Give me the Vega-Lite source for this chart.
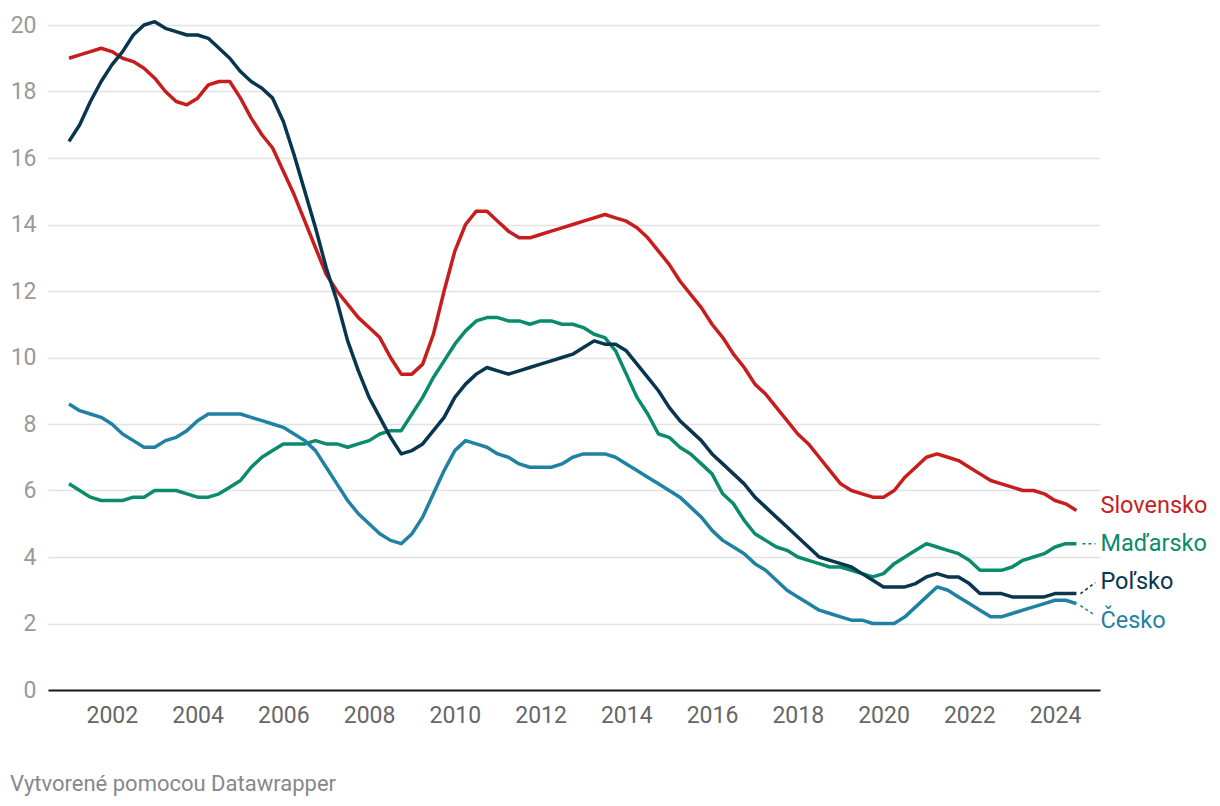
{
  "$schema": "https://vega.github.io/schema/vega-lite/v6.json",
  "width": 1052,
  "height": 665,
  "autosize": {"type": "none"},
  "padding": {"left": 48, "top": 25, "right": 120, "bottom": 116},
  "background": "#ffffff",
  "config": {"font": "Roboto", "view": {"stroke": null}},
  "title": {"text": "Vytvorené pomocou Datawrapper", "orient": "bottom", "anchor": "start", "frame": "group", "dx": -38, "offset": 47, "fontSize": 22, "fontWeight": "normal", "color": "#888888", "font": "Roboto", "baseline": "top"},
  "data": {"values": [
    {"t": 2001.00, "Slovensko": 19.0, "Maďarsko": 6.2, "Poľsko": 16.5, "Česko": 8.6},
    {"t": 2001.25, "Slovensko": 19.1, "Maďarsko": 6.0, "Poľsko": 17.0, "Česko": 8.4},
    {"t": 2001.50, "Slovensko": 19.2, "Maďarsko": 5.8, "Poľsko": 17.7, "Česko": 8.3},
    {"t": 2001.75, "Slovensko": 19.3, "Maďarsko": 5.7, "Poľsko": 18.3, "Česko": 8.2},
    {"t": 2002.00, "Slovensko": 19.2, "Maďarsko": 5.7, "Poľsko": 18.8, "Česko": 8.0},
    {"t": 2002.25, "Slovensko": 19.0, "Maďarsko": 5.7, "Poľsko": 19.2, "Česko": 7.7},
    {"t": 2002.50, "Slovensko": 18.9, "Maďarsko": 5.8, "Poľsko": 19.7, "Česko": 7.5},
    {"t": 2002.75, "Slovensko": 18.7, "Maďarsko": 5.8, "Poľsko": 20.0, "Česko": 7.3},
    {"t": 2003.00, "Slovensko": 18.4, "Maďarsko": 6.0, "Poľsko": 20.1, "Česko": 7.3},
    {"t": 2003.25, "Slovensko": 18.0, "Maďarsko": 6.0, "Poľsko": 19.9, "Česko": 7.5},
    {"t": 2003.50, "Slovensko": 17.7, "Maďarsko": 6.0, "Poľsko": 19.8, "Česko": 7.6},
    {"t": 2003.75, "Slovensko": 17.6, "Maďarsko": 5.9, "Poľsko": 19.7, "Česko": 7.8},
    {"t": 2004.00, "Slovensko": 17.8, "Maďarsko": 5.8, "Poľsko": 19.7, "Česko": 8.1},
    {"t": 2004.25, "Slovensko": 18.2, "Maďarsko": 5.8, "Poľsko": 19.6, "Česko": 8.3},
    {"t": 2004.50, "Slovensko": 18.3, "Maďarsko": 5.9, "Poľsko": 19.3, "Česko": 8.3},
    {"t": 2004.75, "Slovensko": 18.3, "Maďarsko": 6.1, "Poľsko": 19.0, "Česko": 8.3},
    {"t": 2005.00, "Slovensko": 17.8, "Maďarsko": 6.3, "Poľsko": 18.6, "Česko": 8.3},
    {"t": 2005.25, "Slovensko": 17.2, "Maďarsko": 6.7, "Poľsko": 18.3, "Česko": 8.2},
    {"t": 2005.50, "Slovensko": 16.7, "Maďarsko": 7.0, "Poľsko": 18.1, "Česko": 8.1},
    {"t": 2005.75, "Slovensko": 16.3, "Maďarsko": 7.2, "Poľsko": 17.8, "Česko": 8.0},
    {"t": 2006.00, "Slovensko": 15.6, "Maďarsko": 7.4, "Poľsko": 17.1, "Česko": 7.9},
    {"t": 2006.25, "Slovensko": 14.9, "Maďarsko": 7.4, "Poľsko": 16.1, "Česko": 7.7},
    {"t": 2006.50, "Slovensko": 14.1, "Maďarsko": 7.4, "Poľsko": 15.0, "Česko": 7.5},
    {"t": 2006.75, "Slovensko": 13.3, "Maďarsko": 7.5, "Poľsko": 13.9, "Česko": 7.2},
    {"t": 2007.00, "Slovensko": 12.5, "Maďarsko": 7.4, "Poľsko": 12.7, "Česko": 6.7},
    {"t": 2007.25, "Slovensko": 12.0, "Maďarsko": 7.4, "Poľsko": 11.7, "Česko": 6.2},
    {"t": 2007.50, "Slovensko": 11.6, "Maďarsko": 7.3, "Poľsko": 10.5, "Česko": 5.7},
    {"t": 2007.75, "Slovensko": 11.2, "Maďarsko": 7.4, "Poľsko": 9.6, "Česko": 5.3},
    {"t": 2008.00, "Slovensko": 10.9, "Maďarsko": 7.5, "Poľsko": 8.8, "Česko": 5.0},
    {"t": 2008.25, "Slovensko": 10.6, "Maďarsko": 7.7, "Poľsko": 8.2, "Česko": 4.7},
    {"t": 2008.50, "Slovensko": 10.0, "Maďarsko": 7.8, "Poľsko": 7.6, "Česko": 4.5},
    {"t": 2008.75, "Slovensko": 9.5, "Maďarsko": 7.8, "Poľsko": 7.1, "Česko": 4.4},
    {"t": 2009.00, "Slovensko": 9.5, "Maďarsko": 8.3, "Poľsko": 7.2, "Česko": 4.7},
    {"t": 2009.25, "Slovensko": 9.8, "Maďarsko": 8.8, "Poľsko": 7.4, "Česko": 5.2},
    {"t": 2009.50, "Slovensko": 10.7, "Maďarsko": 9.4, "Poľsko": 7.8, "Česko": 5.9},
    {"t": 2009.75, "Slovensko": 12.0, "Maďarsko": 9.9, "Poľsko": 8.2, "Česko": 6.6},
    {"t": 2010.00, "Slovensko": 13.2, "Maďarsko": 10.4, "Poľsko": 8.8, "Česko": 7.2},
    {"t": 2010.25, "Slovensko": 14.0, "Maďarsko": 10.8, "Poľsko": 9.2, "Česko": 7.5},
    {"t": 2010.50, "Slovensko": 14.4, "Maďarsko": 11.1, "Poľsko": 9.5, "Česko": 7.4},
    {"t": 2010.75, "Slovensko": 14.4, "Maďarsko": 11.2, "Poľsko": 9.7, "Česko": 7.3},
    {"t": 2011.00, "Slovensko": 14.1, "Maďarsko": 11.2, "Poľsko": 9.6, "Česko": 7.1},
    {"t": 2011.25, "Slovensko": 13.8, "Maďarsko": 11.1, "Poľsko": 9.5, "Česko": 7.0},
    {"t": 2011.50, "Slovensko": 13.6, "Maďarsko": 11.1, "Poľsko": 9.6, "Česko": 6.8},
    {"t": 2011.75, "Slovensko": 13.6, "Maďarsko": 11.0, "Poľsko": 9.7, "Česko": 6.7},
    {"t": 2012.00, "Slovensko": 13.7, "Maďarsko": 11.1, "Poľsko": 9.8, "Česko": 6.7},
    {"t": 2012.25, "Slovensko": 13.8, "Maďarsko": 11.1, "Poľsko": 9.9, "Česko": 6.7},
    {"t": 2012.50, "Slovensko": 13.9, "Maďarsko": 11.0, "Poľsko": 10.0, "Česko": 6.8},
    {"t": 2012.75, "Slovensko": 14.0, "Maďarsko": 11.0, "Poľsko": 10.1, "Česko": 7.0},
    {"t": 2013.00, "Slovensko": 14.1, "Maďarsko": 10.9, "Poľsko": 10.3, "Česko": 7.1},
    {"t": 2013.25, "Slovensko": 14.2, "Maďarsko": 10.7, "Poľsko": 10.5, "Česko": 7.1},
    {"t": 2013.50, "Slovensko": 14.3, "Maďarsko": 10.6, "Poľsko": 10.4, "Česko": 7.1},
    {"t": 2013.75, "Slovensko": 14.2, "Maďarsko": 10.2, "Poľsko": 10.4, "Česko": 7.0},
    {"t": 2014.00, "Slovensko": 14.1, "Maďarsko": 9.5, "Poľsko": 10.2, "Česko": 6.8},
    {"t": 2014.25, "Slovensko": 13.9, "Maďarsko": 8.8, "Poľsko": 9.8, "Česko": 6.6},
    {"t": 2014.50, "Slovensko": 13.6, "Maďarsko": 8.3, "Poľsko": 9.4, "Česko": 6.4},
    {"t": 2014.75, "Slovensko": 13.2, "Maďarsko": 7.7, "Poľsko": 9.0, "Česko": 6.2},
    {"t": 2015.00, "Slovensko": 12.8, "Maďarsko": 7.6, "Poľsko": 8.5, "Česko": 6.0},
    {"t": 2015.25, "Slovensko": 12.3, "Maďarsko": 7.3, "Poľsko": 8.1, "Česko": 5.8},
    {"t": 2015.50, "Slovensko": 11.9, "Maďarsko": 7.1, "Poľsko": 7.8, "Česko": 5.5},
    {"t": 2015.75, "Slovensko": 11.5, "Maďarsko": 6.8, "Poľsko": 7.5, "Česko": 5.2},
    {"t": 2016.00, "Slovensko": 11.0, "Maďarsko": 6.5, "Poľsko": 7.1, "Česko": 4.8},
    {"t": 2016.25, "Slovensko": 10.6, "Maďarsko": 5.9, "Poľsko": 6.8, "Česko": 4.5},
    {"t": 2016.50, "Slovensko": 10.1, "Maďarsko": 5.6, "Poľsko": 6.5, "Česko": 4.3},
    {"t": 2016.75, "Slovensko": 9.7, "Maďarsko": 5.1, "Poľsko": 6.2, "Česko": 4.1},
    {"t": 2017.00, "Slovensko": 9.2, "Maďarsko": 4.7, "Poľsko": 5.8, "Česko": 3.8},
    {"t": 2017.25, "Slovensko": 8.9, "Maďarsko": 4.5, "Poľsko": 5.5, "Česko": 3.6},
    {"t": 2017.50, "Slovensko": 8.5, "Maďarsko": 4.3, "Poľsko": 5.2, "Česko": 3.3},
    {"t": 2017.75, "Slovensko": 8.1, "Maďarsko": 4.2, "Poľsko": 4.9, "Česko": 3.0},
    {"t": 2018.00, "Slovensko": 7.7, "Maďarsko": 4.0, "Poľsko": 4.6, "Česko": 2.8},
    {"t": 2018.25, "Slovensko": 7.4, "Maďarsko": 3.9, "Poľsko": 4.3, "Česko": 2.6},
    {"t": 2018.50, "Slovensko": 7.0, "Maďarsko": 3.8, "Poľsko": 4.0, "Česko": 2.4},
    {"t": 2018.75, "Slovensko": 6.6, "Maďarsko": 3.7, "Poľsko": 3.9, "Česko": 2.3},
    {"t": 2019.00, "Slovensko": 6.2, "Maďarsko": 3.7, "Poľsko": 3.8, "Česko": 2.2},
    {"t": 2019.25, "Slovensko": 6.0, "Maďarsko": 3.6, "Poľsko": 3.7, "Česko": 2.1},
    {"t": 2019.50, "Slovensko": 5.9, "Maďarsko": 3.5, "Poľsko": 3.5, "Česko": 2.1},
    {"t": 2019.75, "Slovensko": 5.8, "Maďarsko": 3.4, "Poľsko": 3.3, "Česko": 2.0},
    {"t": 2020.00, "Slovensko": 5.8, "Maďarsko": 3.5, "Poľsko": 3.1, "Česko": 2.0},
    {"t": 2020.25, "Slovensko": 6.0, "Maďarsko": 3.8, "Poľsko": 3.1, "Česko": 2.0},
    {"t": 2020.50, "Slovensko": 6.4, "Maďarsko": 4.0, "Poľsko": 3.1, "Česko": 2.2},
    {"t": 2020.75, "Slovensko": 6.7, "Maďarsko": 4.2, "Poľsko": 3.2, "Česko": 2.5},
    {"t": 2021.00, "Slovensko": 7.0, "Maďarsko": 4.4, "Poľsko": 3.4, "Česko": 2.8},
    {"t": 2021.25, "Slovensko": 7.1, "Maďarsko": 4.3, "Poľsko": 3.5, "Česko": 3.1},
    {"t": 2021.50, "Slovensko": 7.0, "Maďarsko": 4.2, "Poľsko": 3.4, "Česko": 3.0},
    {"t": 2021.75, "Slovensko": 6.9, "Maďarsko": 4.1, "Poľsko": 3.4, "Česko": 2.8},
    {"t": 2022.00, "Slovensko": 6.7, "Maďarsko": 3.9, "Poľsko": 3.2, "Česko": 2.6},
    {"t": 2022.25, "Slovensko": 6.5, "Maďarsko": 3.6, "Poľsko": 2.9, "Česko": 2.4},
    {"t": 2022.50, "Slovensko": 6.3, "Maďarsko": 3.6, "Poľsko": 2.9, "Česko": 2.2},
    {"t": 2022.75, "Slovensko": 6.2, "Maďarsko": 3.6, "Poľsko": 2.9, "Česko": 2.2},
    {"t": 2023.00, "Slovensko": 6.1, "Maďarsko": 3.7, "Poľsko": 2.8, "Česko": 2.3},
    {"t": 2023.25, "Slovensko": 6.0, "Maďarsko": 3.9, "Poľsko": 2.8, "Česko": 2.4},
    {"t": 2023.50, "Slovensko": 6.0, "Maďarsko": 4.0, "Poľsko": 2.8, "Česko": 2.5},
    {"t": 2023.75, "Slovensko": 5.9, "Maďarsko": 4.1, "Poľsko": 2.8, "Česko": 2.6},
    {"t": 2024.00, "Slovensko": 5.7, "Maďarsko": 4.3, "Poľsko": 2.9, "Česko": 2.7},
    {"t": 2024.25, "Slovensko": 5.6, "Maďarsko": 4.4, "Poľsko": 2.9, "Česko": 2.7},
    {"t": 2024.50, "Slovensko": 5.4, "Maďarsko": 4.4, "Poľsko": 2.9, "Česko": 2.6}
  ]},
  "transform": [{"fold": ["Slovensko", "Maďarsko", "Poľsko", "Česko"], "as": ["krajina", "v"]}],
  "encoding": {
    "x": {"field": "t", "type": "quantitative",
      "scale": {"domain": [2000.51, 2025.05], "nice": false, "zero": false},
      "axis": {"values": [2002, 2004, 2006, 2008, 2010, 2012, 2014, 2016, 2018, 2020, 2022, 2024], "format": "d", "title": null, "grid": false, "ticks": false, "domain": true, "domainColor": "#1a1a1a", "domainWidth": 2, "labelFontSize": 23, "labelColor": "#666666", "labelPadding": 14, "labelFont": "Roboto"}},
    "y": {"field": "v", "type": "quantitative",
      "scale": {"domain": [0, 20], "nice": false},
      "axis": {"values": [0, 2, 4, 6, 8, 10, 12, 14, 16, 18, 20], "title": null, "grid": true, "gridColor": "#e2e2e2", "gridWidth": 1.3, "domain": false, "ticks": false, "labelFontSize": 23, "labelColor": "#9a9a9a", "labelPadding": 12, "labelFont": "Roboto"}},
    "color": {"field": "krajina", "type": "nominal",
      "scale": {"domain": ["Slovensko", "Maďarsko", "Poľsko", "Česko"], "range": ["#c71e1d", "#0a8b6c", "#08354f", "#1f82a3"]},
      "legend": null}
  },
  "layer": [
    {"mark": {"type": "line", "strokeWidth": 3.5, "strokeJoin": "round", "strokeCap": "butt"}},
    {"transform": [{"filter": "datum.t == 2024.5 && datum.krajina == 'Maďarsko'"}],
     "mark": {"type": "rule", "strokeWidth": 1.6, "strokeDash": [3, 3], "xOffset": 6, "x2Offset": 19},
     "encoding": {"x2": {"field": "t"}, "y2": {"field": "v"}}},
    {"transform": [{"filter": "datum.t == 2024.5 && datum.krajina == 'Poľsko'"}],
     "mark": {"type": "rule", "strokeWidth": 1.6, "strokeDash": [3, 3], "xOffset": 4, "x2Offset": 19, "y2Offset": -11},
     "encoding": {"x2": {"field": "t"}, "y2": {"field": "v"}}},
    {"transform": [{"filter": "datum.t == 2024.5 && datum.krajina == 'Česko'"}],
     "mark": {"type": "rule", "strokeWidth": 1.6, "strokeDash": [3, 3], "xOffset": 4, "yOffset": 2, "x2Offset": 19, "y2Offset": 12},
     "encoding": {"x2": {"field": "t"}, "y2": {"field": "v"}}},
    {"transform": [{"filter": "datum.t == 2024.5 && datum.krajina == 'Slovensko'"}],
     "mark": {"type": "text", "align": "left", "baseline": "middle", "dx": 24, "dy": -4, "fontSize": 23.5, "font": "Roboto"},
     "encoding": {"text": {"field": "krajina"}}},
    {"transform": [{"filter": "datum.t == 2024.5 && datum.krajina == 'Maďarsko'"}],
     "mark": {"type": "text", "align": "left", "baseline": "middle", "dx": 24, "dy": 0, "fontSize": 23.5, "font": "Roboto"},
     "encoding": {"text": {"field": "krajina"}}},
    {"transform": [{"filter": "datum.t == 2024.5 && datum.krajina == 'Poľsko'"}],
     "mark": {"type": "text", "align": "left", "baseline": "middle", "dx": 24, "dy": -12, "fontSize": 23.5, "font": "Roboto"},
     "encoding": {"text": {"field": "krajina"}}},
    {"transform": [{"filter": "datum.t == 2024.5 && datum.krajina == 'Česko'"}],
     "mark": {"type": "text", "align": "left", "baseline": "middle", "dx": 24, "dy": 17, "fontSize": 23.5, "font": "Roboto"},
     "encoding": {"text": {"field": "krajina"}}}
  ]
}
